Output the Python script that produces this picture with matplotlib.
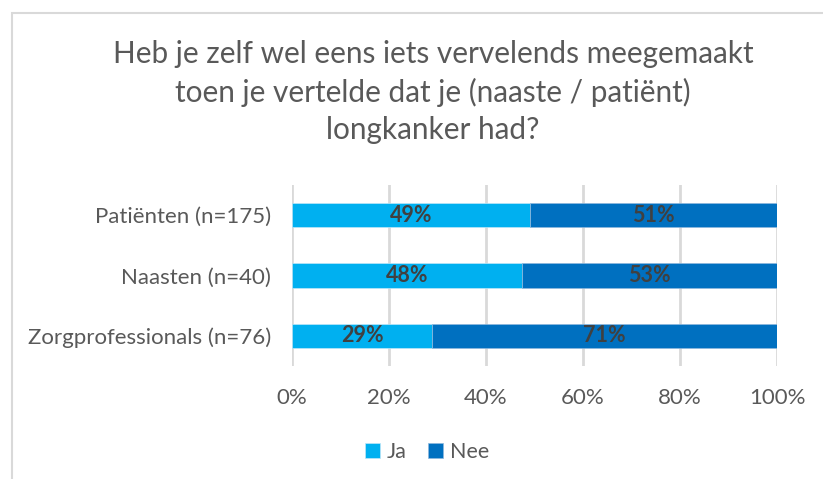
import matplotlib.pyplot as plt
from matplotlib.patches import Rectangle

# Data
groups = ["Patiënten (n=175)", "Naasten (n=40)", "Zorgprofessionals (n=76)"]
ja = [49.1, 47.5, 28.9]
nee = [50.9, 52.5, 71.1]
ja_labels = ["49%", "48%", "29%"]
nee_labels = ["51%", "53%", "71%"]
ticks = [0, 20, 40, 60, 80, 100]

plt.rcParams["font.family"] = ["Lato", "DejaVu Sans"]

fig = plt.figure(figsize=(8.23, 4.79), dpi=100)
ax = fig.add_axes([292 / 823, 1 - 366 / 479, 485 / 823, 181 / 479])

# light grey chart border (left and top visible)
fig.patches.append(Rectangle((11.5 / 823, -0.1), 1.2, 1 - 13.5 / 479 + 0.1,
                             transform=fig.transFigure, fill=False,
                             edgecolor="#d9d9d9", linewidth=1.5))

y = range(len(groups))
ax.barh(y, ja, height=0.4, color="#00b0f0", edgecolor="#bfe6f7", linewidth=0.5, label="Ja", zorder=3)
ax.barh(y, nee, left=ja, height=0.4, color="#0070c0", edgecolor="#8fb8dd", linewidth=0.5, label="Nee", zorder=3)

for i in y:
    ax.text(ja[i] / 2, i, ja_labels[i], ha="center", va="center",
            fontsize=15.5, fontweight="bold", color="#404040", zorder=4)
    ax.text(ja[i] + nee[i] / 2, i, nee_labels[i], ha="center", va="center",
            fontsize=15.5, fontweight="bold", color="#404040", zorder=4)

ax.set_xlim(0, 100)
ax.set_ylim(2.5, -0.5)
ax.set_yticks(list(y))
ax.set_yticklabels(groups)
ax.set_xticks(ticks)
ax.set_xticklabels([f"{t}%" for t in ticks])
ax.tick_params(axis="both", length=0, labelsize=16, labelcolor="#595959")
ax.tick_params(axis="x", pad=16)
ax.tick_params(axis="y", pad=15)
ax.grid(axis="x", color="#d9d9d9", linewidth=2, zorder=0)
for s in ax.spines.values():
    s.set_visible(False)

fig.text(433 / 823, 1 - 92 / 479,
         "Heb je zelf wel eens iets vervelends meegemaakt\n"
         "toen je vertelde dat je (naaste / patiënt)\n"
         "longkanker had?",
         ha="center", va="center", fontsize=21.4, color="#595959", linespacing=1.4)

ax.legend(loc="center", bbox_to_anchor=(427 / 823, 1 - 452 / 479),
          bbox_transform=fig.transFigure, ncol=2, frameon=False,
          fontsize=15.5, labelcolor="#595959", handlelength=0.7, handleheight=0.7,
          handletextpad=0.3, columnspacing=1.0)

fig.savefig("out.png", dpi=100)
